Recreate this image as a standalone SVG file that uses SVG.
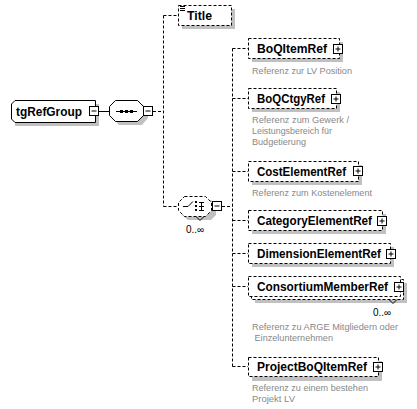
<svg xmlns="http://www.w3.org/2000/svg" width="417" height="409" viewBox="0 0 417 409">
<style>
.bg{fill:#fff}
.sh{fill:#c0c0c0}
.box{fill:#fff;stroke:#000;stroke-width:1;stroke-dasharray:3 2}
.solid{fill:#fff;stroke:#000;stroke-width:1}
.con{fill:none;stroke:#000;stroke-width:1;stroke-dasharray:3 2}
.ln{fill:none;stroke:#000;stroke-width:1}
.lbl{font-family:"Liberation Sans",Arial,sans-serif;font-weight:bold;font-size:12px;fill:#000}
.desc{font-family:"Liberation Sans",Arial,sans-serif;font-size:9px;fill:#888}
.occ{font-family:"Liberation Sans",Arial,sans-serif;font-size:10px;fill:#000}
</style>
<defs>
<g id="plus"><rect x="0.5" y="0.5" width="9" height="9" class="solid"/><path d="M2.5 5H7.5M5 2.5V7.5" class="ln"/></g>
<g id="minus"><rect x="0.5" y="0.5" width="9" height="9" class="solid"/><path d="M2.5 5H7.5" class="ln"/></g>
</defs>
<rect width="417" height="409" class="bg"/>

<g id="connectors">
<path d="M99 111.5H109" class="ln"/>
<path d="M153 111.5H163.5M163.5 15.5V206.5M163.5 15.5H178M163.5 206.5H178" class="con"/>
<path d="M222 206.5H232.5M232.5 48.5V366.5M232.5 48.5H248M232.5 98.5H248M232.5 171.5H248M232.5 220.5H248M232.5 253.5H248M232.5 286.5H248M232.5 366.5H248" class="con"/>
</g>

<g id="tgRefGroup">
<path d="M19 104H99V126H15V108Z" class="sh"/>
<path d="M15 100.5H95.5V122.5H15L11.5 119V104Z" class="solid"/>
<text x="16" y="116" class="lbl" textLength="66" lengthAdjust="spacingAndGlyphs">tgRefGroup</text>
<use href="#minus" x="89" y="106"/>
</g>

<g id="sequence">
<path d="M119 104H142L148 110V118L142 125H119L113 118V110Z" class="sh"/>
<path d="M115.5 100.5H137.5L143.5 106.5V115.5L137.5 121.5H115.5L109.5 115.5V106.5Z" class="solid"/>
<path d="M116 111.5H137" class="ln"/>
<rect x="120" y="110" width="3" height="3"/><rect x="125" y="110" width="3" height="3"/><rect x="130" y="110" width="3" height="3"/>
<use href="#minus" x="143" y="106"/>
</g>

<g id="Title">
<rect x="182" y="9" width="53" height="20" class="sh"/>
<rect x="178.5" y="5.5" width="53" height="20" class="box"/>
<path d="M180 6.5H185M180 8.5H185M180 10.5H185" class="ln"/>
<text x="187" y="20" class="lbl" textLength="25" lengthAdjust="spacingAndGlyphs">Title</text>
</g>

<g id="choice">
<path d="M188 200H211L216 205V215L211 220H188L182 215V205Z" class="sh"/>
<path d="M184.5 196.5H205.5L211.5 202.5V210.5L205.5 216.5H184.5L178.5 210.5V202.5Z" class="box"/>
<path d="M196 216.5L200 220.5L204 216.5" class="ln"/>
<path d="M183 206.5H188L193 201.5" class="ln"/>
<rect x="195" y="201" width="2" height="2"/><rect x="195" y="205" width="2" height="2"/><rect x="195" y="209" width="2" height="2"/>
<path d="M199 202.5H204M199 206.5H204M199 210.5H204M201.5 202.5V210.5" class="ln"/>
<use href="#minus" x="212" y="201"/>
<text x="186" y="233" class="occ">0..∞</text>
</g>

<g id="BoQItemRef">
<rect x="252" y="42" width="91" height="20" class="sh"/>
<rect x="248.5" y="38.5" width="91" height="20" class="box"/>
<text x="257" y="53" class="lbl" textLength="70" lengthAdjust="spacingAndGlyphs">BoQItemRef</text>
<use href="#plus" x="333" y="44"/>
<text x="252" y="74" class="desc" textLength="100" lengthAdjust="spacingAndGlyphs">Referenz zur LV Position</text>
</g>

<g id="BoQCtgyRef">
<rect x="252" y="92" width="88" height="20" class="sh"/>
<rect x="248.5" y="88.5" width="88" height="20" class="box"/>
<text x="257" y="103" class="lbl" textLength="68" lengthAdjust="spacingAndGlyphs">BoQCtgyRef</text>
<use href="#plus" x="331" y="94"/>
<text x="252" y="123" class="desc" textLength="97" lengthAdjust="spacingAndGlyphs">Referenz zum Gewerk /</text>
<text x="252" y="134" class="desc" textLength="80" lengthAdjust="spacingAndGlyphs">Leistungsbereich für</text>
<text x="252" y="145" class="desc" textLength="54" lengthAdjust="spacingAndGlyphs">Budgetierung</text>
</g>

<g id="CostElementRef">
<rect x="252" y="165" width="110" height="20" class="sh"/>
<rect x="248.5" y="161.5" width="110" height="20" class="box"/>
<text x="257" y="176" class="lbl" textLength="89" lengthAdjust="spacingAndGlyphs">CostElementRef</text>
<use href="#plus" x="353" y="166"/>
<text x="252" y="196" class="desc" textLength="120" lengthAdjust="spacingAndGlyphs">Referenz zum Kostenelement</text>
</g>

<g id="CategoryElementRef">
<rect x="252" y="214" width="134" height="20" class="sh"/>
<rect x="248.5" y="210.5" width="134" height="20" class="box"/>
<text x="257" y="225" class="lbl" textLength="115" lengthAdjust="spacingAndGlyphs">CategoryElementRef</text>
<use href="#plus" x="377" y="216"/>
</g>

<g id="DimensionElementRef">
<rect x="252" y="247" width="142" height="20" class="sh"/>
<rect x="248.5" y="243.5" width="142" height="20" class="box"/>
<text x="257" y="258" class="lbl" textLength="124" lengthAdjust="spacingAndGlyphs">DimensionElementRef</text>
<use href="#plus" x="386" y="249"/>
</g>

<g id="ConsortiumMemberRef">
<rect x="255" y="283" width="152" height="20" class="sh"/>
<rect x="251.5" y="279.5" width="152" height="20" class="box"/>
<rect x="248.5" y="276.5" width="152" height="20" class="box"/>
<path d="M389 299.5L393 303.5L397 299.5" class="ln"/>
<text x="257" y="291" class="lbl" textLength="131" lengthAdjust="spacingAndGlyphs">ConsortiumMemberRef</text>
<use href="#plus" x="394" y="282"/>
<text x="373" y="316" class="occ">0..∞</text>
<text x="252" y="330" class="desc" textLength="146" lengthAdjust="spacingAndGlyphs">Referenz zu ARGE Mitgliedern oder</text>
<text x="252" y="341" class="desc" xml:space="preserve" textLength="81" lengthAdjust="spacingAndGlyphs"> Einzelunternehmen</text>
</g>

<g id="ProjectBoQItemRef">
<rect x="252" y="361" width="130" height="20" class="sh"/>
<rect x="248.5" y="357.5" width="130" height="19" class="box"/>
<text x="257" y="371" class="lbl" textLength="110" lengthAdjust="spacingAndGlyphs">ProjectBoQItemRef</text>
<use href="#plus" x="373" y="362"/>
<text x="252" y="391" class="desc" textLength="116" lengthAdjust="spacingAndGlyphs">Referenz zu einem bestehen</text>
<text x="252" y="402" class="desc" textLength="43" lengthAdjust="spacingAndGlyphs">Projekt LV</text>
</g>
</svg>
